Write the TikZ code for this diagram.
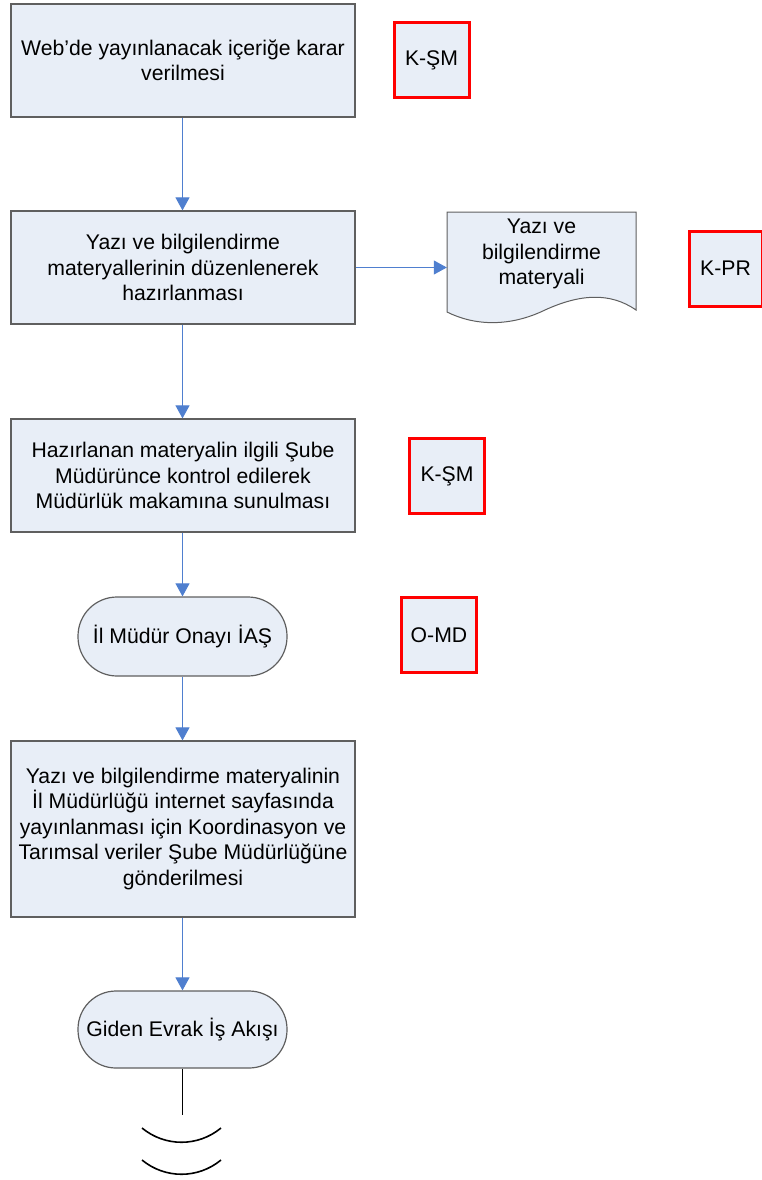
\documentclass[tikz,border=0pt]{standalone}
\usepackage{fontspec}
\setmainfont{Liberation Sans}
\usetikzlibrary{arrows.meta}
\definecolor{boxfill}{HTML}{E8EEF7}
\definecolor{boxdraw}{HTML}{5F5F5F}
\definecolor{arrowblue}{HTML}{4F7FCF}
\begin{document}
\begin{tikzpicture}[x=1pt,y=-1pt,
  font=\fontsize{21.2}{25.5}\selectfont,
  procbox/.style={draw=boxdraw, fill=boxfill, line width=1.2pt, minimum width=344pt, minimum height=113pt, align=center, inner sep=0pt},
  tagbox/.style={draw=red, fill=boxfill, line width=3pt, minimum width=75pt, minimum height=75pt, inner sep=0pt},
  termbox/.style={draw=boxdraw, fill=boxfill, line width=1.2pt, minimum width=209pt, minimum height=79pt, rounded corners=39pt, inner sep=0pt},
  flow/.style={draw=arrowblue, line width=1pt, -{Triangle[width=14pt,length=13pt]}},
  endline/.style={draw=black, line width=1.6pt}
]
\useasboundingbox (0,0) rectangle (762,1180);

\node[procbox] (b1) at (183,60.5) {Web’de yayınlanacak içeriğe karar\\verilmesi};
\node[tagbox] (k1) at (431.5,60.5) {K-ŞM};

\node[procbox] (b2) at (183,267.5) {Yazı ve bilgilendirme\\materyallerinin düzenlenerek\\hazırlanması};

\draw[draw=boxdraw, fill=boxfill, line width=1pt]
  (447,212) -- (636,212) -- (636,310)
  .. controls (610,292) and (580,294) .. (545,310)
  .. controls (510,327) and (475,326) .. (447,312) -- cycle;
\node[align=center, minimum width=189pt, minimum height=84pt, inner sep=0pt] (doc) at (541.5,254) {Yazı ve\\bilgilendirme\\materyali};
\node[tagbox, minimum width=73pt] (k2) at (725.5,268.5) {K-PR};

\node[procbox] (b3) at (183,475.5) {Hazırlanan materyalin ilgili Şube\\Müdürünce kontrol edilerek\\Müdürlük makamına sunulması};
\node[tagbox] (k3) at (447,476) {K-ŞM};

\node[termbox] (t1) at (182.5,636.5) {İl Müdür Onayı İAŞ};
\node[tagbox] (k4) at (439,635) {O-MD};

\node[procbox, minimum height=176pt] (b4) at (183,829) {Yazı ve bilgilendirme materyalinin\\İl Müdürlüğü internet sayfasında\\yayınlanması için Koordinasyon ve\\Tarımsal veriler Şube Müdürlüğüne\\gönderilmesi};

\node[termbox, minimum height=77pt, rounded corners=38pt] (t2) at (182.5,1029.5) {Giden Evrak İş Akışı};

\coordinate (e1) at (182.5,1115);
\coordinate (a1l) at (142,1128);
\coordinate (a1r) at (221,1128);
\coordinate (a2l) at (142,1160);
\coordinate (a2r) at (221,1160);

\draw[flow] (b1.south -| 182.5,0) -- (b2.north -| 182.5,0);
\draw[flow] (b2.east) -- (b2.east -| doc.west);
\draw[flow] (b2.south -| 182.5,0) -- (b3.north -| 182.5,0);
\draw[flow] (b3.south -| 182.5,0) -- (t1.north);
\draw[flow] (t1.south) -- (b4.north -| 182.5,0);
\draw[flow] (b4.south -| 182.5,0) -- (t2.north);

\draw[endline] (t2.south) -- (e1);
\draw[endline] (a1l) .. controls (165,1147) and (198,1147) .. (a1r);
\draw[endline] (a2l) .. controls (165,1179) and (198,1179) .. (a2r);
\end{tikzpicture}
\end{document}
